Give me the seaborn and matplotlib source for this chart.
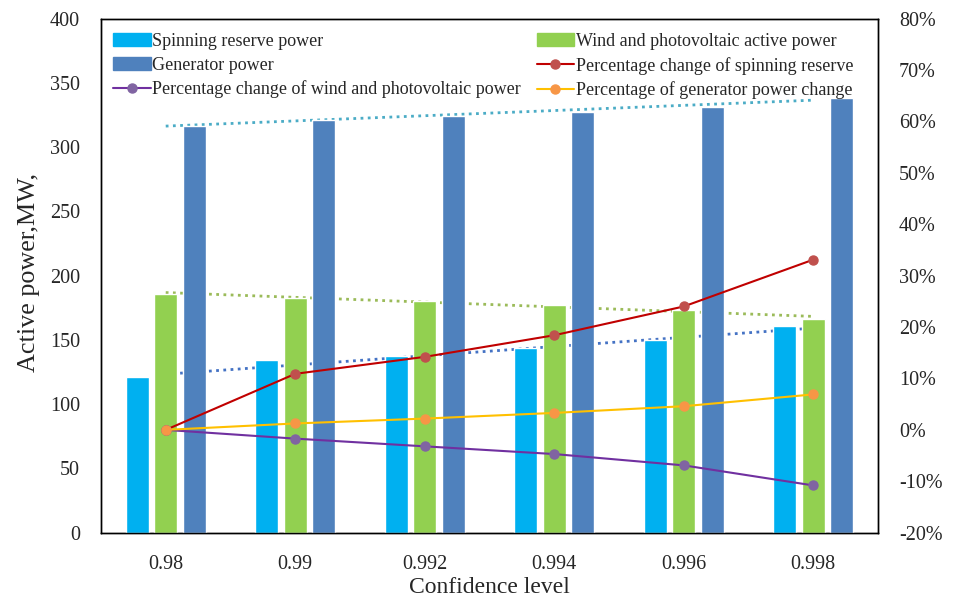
import numpy as np
import pandas as pd
import matplotlib
matplotlib.use("Agg")
import matplotlib.pyplot as plt
from matplotlib.patches import Patch
from matplotlib.lines import Line2D
from matplotlib.ticker import PercentFormatter, MultipleLocator
import seaborn as sns

# data
levels = ["0.98", "0.99", "0.992", "0.994", "0.996", "0.998"]
spinning_reserve = [121.2, 134.1, 137.8, 143.5, 150.2, 160.6]
wind_pv_power = [185.9, 182.8, 180.1, 177.0, 173.1, 166.4]
generator_power = [316.6, 321.0, 324.4, 327.0, 331.2, 338.2]

pct_spinning = [0.0, 0.109, 0.142, 0.184, 0.240, 0.331]
pct_wind_pv = [0.0, -0.017, -0.032, -0.047, -0.069, -0.108]
pct_generator = [0.0, 0.0125, 0.022, 0.033, 0.046, 0.069]

bar_names = ["Spinning reserve power", "Wind and photovoltaic active power", "Generator power"]
bar_colors = ["#00B0F0", "#92D050", "#4F81BD"]
trend_colors = ["#4472C4", "#9BBB59", "#4BACC6"]


def main():
    sns.set_style("white")
    plt.rcParams["font.family"] = ["Liberation Serif", "DejaVu Serif"]
    plt.rcParams["axes.unicode_minus"] = False

    df = pd.DataFrame({
        "level": levels * 3,
        "power": spinning_reserve + wind_pv_power + generator_power,
        "series": np.repeat(bar_names, len(levels)),
    })

    fig = plt.figure(figsize=(9.59, 6.01), dpi=100)
    ax = fig.add_axes([0.1053, 0.1136, 0.8102, 0.8556])

    sns.barplot(data=df, x="level", y="power", hue="series", order=levels,
                hue_order=bar_names, palette=bar_colors, width=0.66, gap=0.19,
                saturation=1, legend=False, ax=ax, zorder=3)

    # linear trend lines of the bar series (Excel style dotted)
    idx = np.arange(len(levels))
    for vals, col in zip([spinning_reserve, wind_pv_power, generator_power], trend_colors):
        k, b = np.polyfit(idx, vals, 1)
        ax.plot(idx, k * idx + b, color=col, lw=2, ls=(0, (1, 1.6)), zorder=2)

    ax.set_ylim(0, 400)
    ax.set_xlim(-0.5, len(levels) - 0.5)
    ax.yaxis.set_major_locator(MultipleLocator(50))
    ax.set_xlabel("Confidence level", fontsize=17, labelpad=2)
    ax.set_ylabel("Active power,MW,", fontsize=18.8)
    ax.yaxis.set_label_coords(-0.079, 0.507)
    ax.tick_params(axis="x", length=0, pad=16, labelsize=14.5)
    ax.tick_params(axis="y", length=0, pad=15, labelsize=14.5)

    ax2 = ax.twinx()
    ax2.plot(idx, pct_spinning, color="#C00000", lw=1.5, marker="o", ms=6.5,
             mfc="#C0504D", mec="#C0504D")
    ax2.plot(idx, pct_wind_pv, color="#7030A0", lw=1.5, marker="o", ms=6.5,
             mfc="#8064A2", mec="#8064A2")
    ax2.plot(idx, pct_generator, color="#FFC000", lw=1.5, marker="o", ms=6.5,
             mfc="#F79646", mec="#F79646")
    ax2.set_ylim(-0.2, 0.8)
    ax2.yaxis.set_major_locator(MultipleLocator(0.1))
    ax2.yaxis.set_major_formatter(PercentFormatter(1.0, decimals=0))
    ax2.tick_params(axis="y", length=0, pad=15, labelsize=14.5)

    for a in (ax, ax2):
        for s in a.spines.values():
            s.set_visible(True)
            s.set_color("black")
            s.set_linewidth(1.0)

    handles = [
        Patch(color=bar_colors[0]),
        Patch(color=bar_colors[2]),
        Line2D([], [], color="#7030A0", lw=1.5, marker="o", ms=6.5, mfc="#8064A2", mec="#8064A2"),
        Patch(color=bar_colors[1]),
        Line2D([], [], color="#C00000", lw=1.5, marker="o", ms=6.5, mfc="#C0504D", mec="#C0504D"),
        Line2D([], [], color="#FFC000", lw=1.5, marker="o", ms=6.5, mfc="#F79646", mec="#F79646"),
    ]
    labels = [
        "Spinning reserve power",
        "Generator power",
        "Percentage change of wind and photovoltaic power",
        "Wind and photovoltaic active power",
        "Percentage change of spinning reserve",
        "Percentage of generator power change",
    ]
    ax2.legend(handles, labels, ncol=2, loc="upper left", bbox_to_anchor=(0.0, 0.995),
               frameon=False, fontsize=13.0, handlelength=2.1, handletextpad=0.1,
               columnspacing=0.85, labelspacing=0.38, borderaxespad=0.25)

    fig.savefig("out.png", dpi=100)


if __name__ == "__main__":
    main()
